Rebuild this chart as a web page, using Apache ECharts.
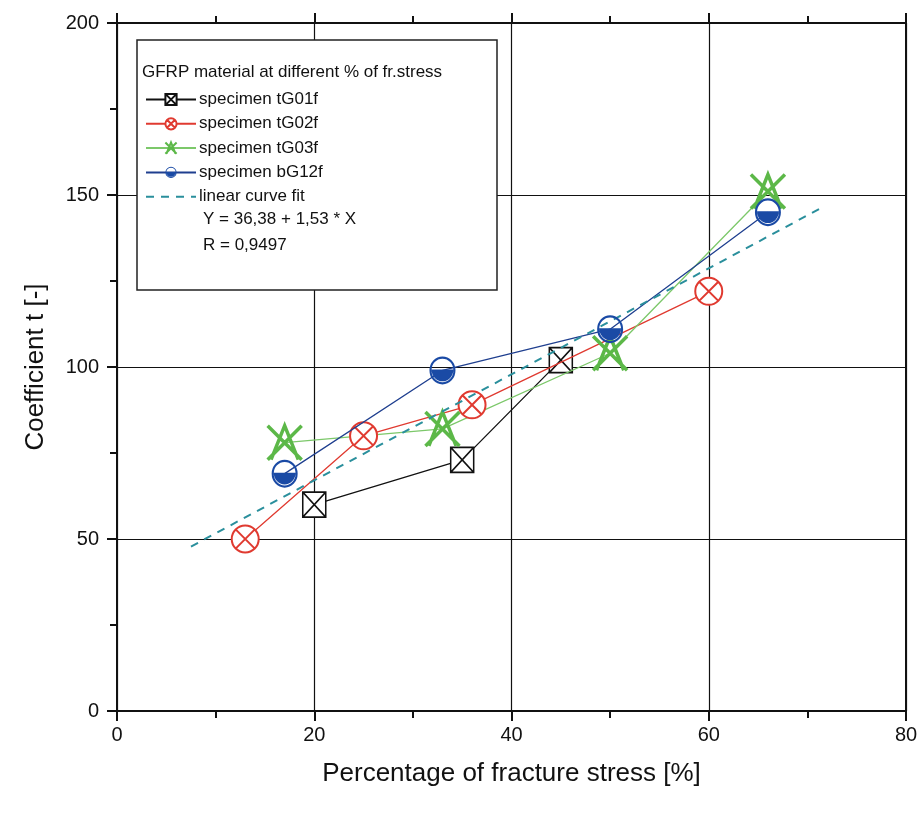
<!DOCTYPE html>
<html>
<head>
<meta charset="utf-8">
<script src="https://cdn.jsdelivr.net/npm/echarts@6/dist/echarts.min.js"></script>
<style>
html, body { margin: 0; padding: 0; background: #fff; }
#main { width: 922px; height: 820px; }
</style>
</head>
<body>
<div id="main"></div>
<script>
// values
var xTicks = [0, 20, 40, 60, 80];
var yTicks = [0, 50, 100, 150, 200];

var tG01f_x = [20, 35, 45];
var tG01f_y = [60, 73, 102];

var tG02f_x = [13, 25, 36, 60];
var tG02f_y = [50, 80, 89, 122];

var tG03f_x = [17, 33, 50, 66];
var tG03f_y = [78, 82, 104, 151];

var bG12f_x = [17, 33, 50, 66];
var bG12f_y = [69, 99, 111, 145];

var fit_x = [7.5, 71.5];
var fit_y = [47.8, 146.4];

var legendNames = ["specimen tG01f", "specimen tG02f", "specimen tG03f", "specimen bG12f", "linear curve fit"];

function pairs(xs, ys) {
  return xs.map(function (x, i) { return [x, ys[i]]; });
}

var squareX = "path://M0,0H20V20H0Z M0,0L20,20 M20,0L0,20";
var circleX = "path://M0,10A10,10 0 1,1 20,10A10,10 0 1,1 0,10Z M2.9,2.9L17.1,17.1 M17.1,2.9L2.9,17.1";
var starX = "path://M0,0L20,20 M20,0L0,20 M2,20L10,0L18,20";
var halfCircle = "path://M0,10A10,10 0 1,0 20,10A10,10 0 1,0 0,10Z M1.6,10A8.4,8.4 0 1,1 18.4,10A8.4,8.4 0 1,1 1.6,10Z M1.6,9.4L18.4,9.4A8.4,8.4 0 0,1 1.6,9.4Z";

var font = "Liberation Sans";

var chartDom = document.getElementById("main");
var myChart = echarts.init(chartDom);
var option;
option = {
  animation: false,
  backgroundColor: "#fff",
  grid: { left: 117, right: 16, top: 23, bottom: 109 },
  legend: {
    data: legendNames.map(function (n, i) {
      return i === 4 ? { name: n, itemStyle: { opacity: 0 } } : n;
    }),
    orient: "vertical",
    left: 140,
    top: 86,
    itemWidth: 50,
    itemHeight: 14,
    itemGap: 7.3,
    z: 10,
    textStyle: { fontFamily: font, fontSize: 17, color: "#111", padding: [0, 0, 0, -2] },
    inactiveColor: "#999"
  },
  graphic: [
    {
      type: "rect",
      shape: { x: 137, y: 40, width: 360, height: 250 },
      style: { fill: "#fff", stroke: "#222", lineWidth: 1.5 },
      z: 5
    },
    {
      type: "text",
      left: 142, top: 64,
      style: { text: "GFRP material at different % of fr.stress", font: "17px " + font, fill: "#111" },
      z: 6
    },
    {
      type: "text",
      left: 203, top: 211,
      style: { text: "Y = 36,38 + 1,53 * X", font: "17px " + font, fill: "#111" },
      z: 6
    },
    {
      type: "text",
      left: 203, top: 237,
      style: { text: "R = 0,9497", font: "17px " + font, fill: "#111" },
      z: 6
    }
  ],
  xAxis: [
    {
      type: "value",
      min: 0, max: 80, interval: 20,
      name: "Percentage of fracture stress [%]",
      nameLocation: "middle",
      nameGap: 50,
      nameTextStyle: { fontFamily: font, fontSize: 26, color: "#111" },
      axisLine: { show: true, onZero: false, lineStyle: { color: "#111", width: 2 } },
      axisTick: { inside: false, length: 10, lineStyle: { color: "#111", width: 2 } },
      minorTick: { show: true, splitNumber: 2, length: 7, lineStyle: { color: "#111", width: 2 } },
      axisLabel: { fontFamily: font, fontSize: 20, color: "#111", margin: 14 },
      splitLine: { show: true, lineStyle: { color: "#111", width: 1.2 } }
    },
    {
      type: "value",
      position: "top",
      min: 0, max: 80, interval: 20,
      axisLine: { show: true, onZero: false, lineStyle: { color: "#111", width: 2 } },
      axisTick: { inside: false, length: 10, lineStyle: { color: "#111", width: 2 } },
      minorTick: { show: true, splitNumber: 2, length: 7, lineStyle: { color: "#111", width: 2 } },
      axisLabel: { show: false },
      splitLine: { show: false }
    }
  ],
  yAxis: [
    {
      type: "value",
      min: 0, max: 200, interval: 50,
      name: "Coefficient t [-]",
      nameLocation: "middle",
      nameGap: 68,
      nameTextStyle: { fontFamily: font, fontSize: 26, color: "#111" },
      axisLine: { show: true, onZero: false, lineStyle: { color: "#111", width: 2 } },
      axisTick: { inside: false, length: 10, lineStyle: { color: "#111", width: 2 } },
      minorTick: { show: true, splitNumber: 2, length: 7, lineStyle: { color: "#111", width: 2 } },
      axisLabel: { fontFamily: font, fontSize: 20, color: "#111", margin: 18 },
      splitLine: { show: true, lineStyle: { color: "#111", width: 1.2 } }
    },
    {
      type: "value",
      position: "right",
      min: 0, max: 200, interval: 50,
      axisLine: { show: true, onZero: false, lineStyle: { color: "#111", width: 2 } },
      axisTick: { show: false },
      axisLabel: { show: false },
      splitLine: { show: false }
    }
  ],
  series: [
    {
      name: "specimen tG01f",
      type: "line",
      data: pairs(tG01f_x, tG01f_y),
      symbol: squareX,
      symbolSize: [23, 25],
      lineStyle: { color: "#111", width: 1.3 },
      itemStyle: { color: "#fff", borderColor: "#111", borderWidth: 1.6 },
      z: 2
    },
    {
      name: "specimen tG02f",
      type: "line",
      data: pairs(tG02f_x, tG02f_y),
      symbol: circleX,
      symbolSize: 27,
      lineStyle: { color: "#e03a30", width: 1.3 },
      itemStyle: { color: "#fff", borderColor: "#e03a30", borderWidth: 2 },
      z: 3
    },
    {
      name: "specimen tG03f",
      type: "line",
      data: pairs(tG03f_x, tG03f_y),
      symbol: starX,
      symbolSize: 34,
      lineStyle: { color: "#7cc86a", width: 1.3 },
      itemStyle: { color: "rgba(0,0,0,0)", borderColor: "#5cb848", borderWidth: 3.5 },
      z: 3
    },
    {
      name: "specimen bG12f",
      type: "line",
      data: pairs(bG12f_x, bG12f_y),
      symbol: halfCircle,
      symbolSize: [26, 28],
      lineStyle: { color: "#1f3f8f", width: 1.3 },
      itemStyle: { color: "#1a4aa5", borderWidth: 0 },
      z: 4
    },
    {
      name: "linear curve fit",
      type: "line",
      data: pairs(fit_x, fit_y),
      symbol: "none",
      lineStyle: { color: "#2a8f9c", width: 2, type: [8, 7] },
      itemStyle: { color: "#2a8f9c" },
      z: 4
    }
  ]
};

option && myChart.setOption(option);
</script>
</body>
</html>
